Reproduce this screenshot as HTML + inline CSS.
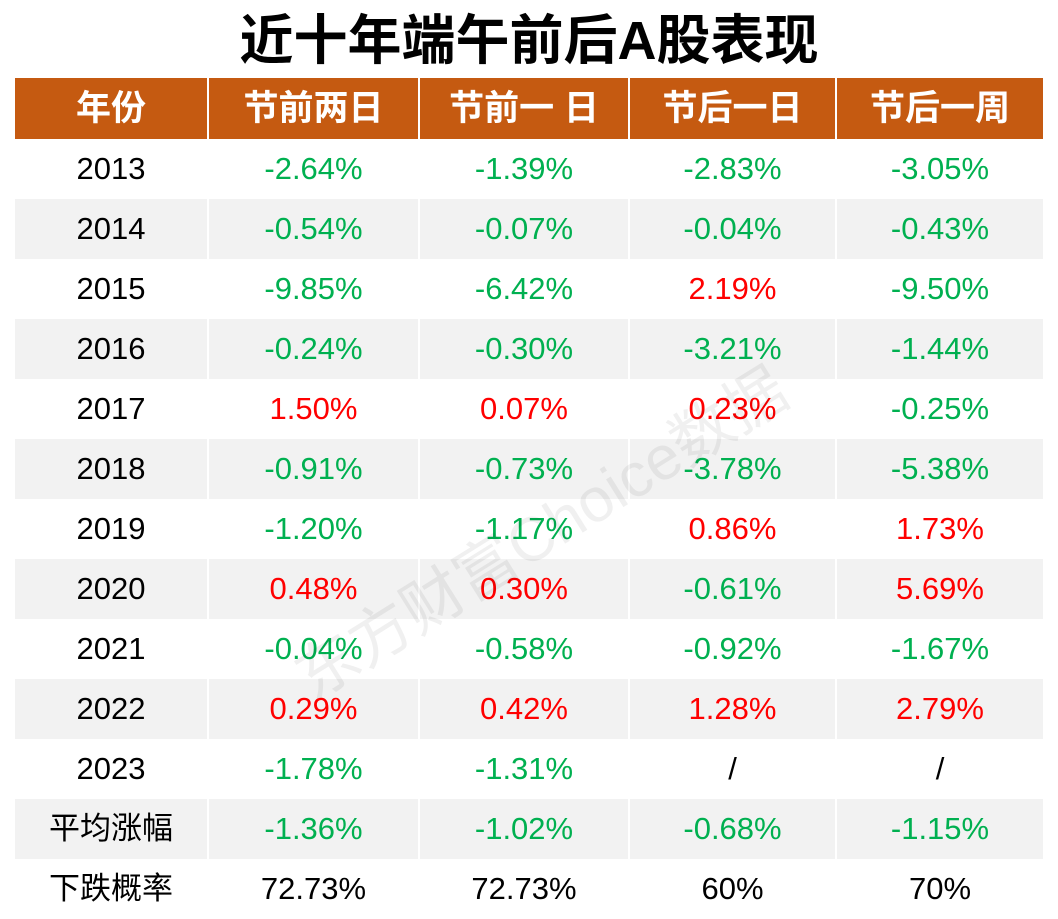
<!DOCTYPE html>
<html><head><meta charset="utf-8"><style>
body{margin:0;width:1058px;height:919px;background:#fff;position:relative;overflow:hidden;font-family:"Liberation Sans","Noto Sans CJK SC",sans-serif}
.t{position:absolute;left:0;top:6px;width:1058px;text-align:center;font-size:54px;font-weight:bold;line-height:70px;color:#000}
.c{position:absolute;height:60px;line-height:60px;text-align:center;font-size:31px}
.h{background:#c55a11;color:#fff;font-weight:bold;font-size:35px;height:61px;line-height:61px}
.g{background:#f2f2f2}
.gr{color:#00b050}.r{color:#ff0000}.k{color:#000}
.wm{position:absolute;left:275px;top:640px;font-size:62px;color:rgba(0,0,0,0.06);transform:rotate(-32deg);transform-origin:left top;white-space:nowrap}
</style></head><body>
<div class="t">近十年端午前后A股表现</div>
<div id="tb"></div>
<div class="wm">东方财富Choice数据</div>
<script>
var X=[[15,192],[209,209],[420,208],[630,205],[837,206]];
var H=["年份","节前两日","节前一 日","节后一日","节后一周"];
var R=[["2013","-2.64%","-1.39%","-2.83%","-3.05%"],["2014","-0.54%","-0.07%","-0.04%","-0.43%"],["2015","-9.85%","-6.42%","2.19%","-9.50%"],["2016","-0.24%","-0.30%","-3.21%","-1.44%"],["2017","1.50%","0.07%","0.23%","-0.25%"],["2018","-0.91%","-0.73%","-3.78%","-5.38%"],["2019","-1.20%","-1.17%","0.86%","1.73%"],["2020","0.48%","0.30%","-0.61%","5.69%"],["2021","-0.04%","-0.58%","-0.92%","-1.67%"],["2022","0.29%","0.42%","1.28%","2.79%"],["2023","-1.78%","-1.31%","/","/"],["平均涨幅","-1.36%","-1.02%","-0.68%","-1.15%"],["下跌概率","72.73%","72.73%","60%","70%"]];
var s="";
for(var j=0;j<5;j++)s+='<div class="c h" style="left:'+X[j][0]+'px;top:78px;width:'+X[j][1]+'px">'+H[j]+'</div>';
for(var i=0;i<R.length;i++){var y=139+i*60;var g=(i%2==1)?" g":"";
for(var j=0;j<5;j++){var v=R[i][j];var cl="k";if(j>0&&i<12&&v!="/")cl=v[0]=="-"?"gr":"r";
s+='<div class="c '+cl+g+'" style="left:'+X[j][0]+'px;top:'+y+'px;width:'+X[j][1]+'px">'+v+'</div>';}}
document.getElementById("tb").innerHTML=s;
</script>
</body></html>
